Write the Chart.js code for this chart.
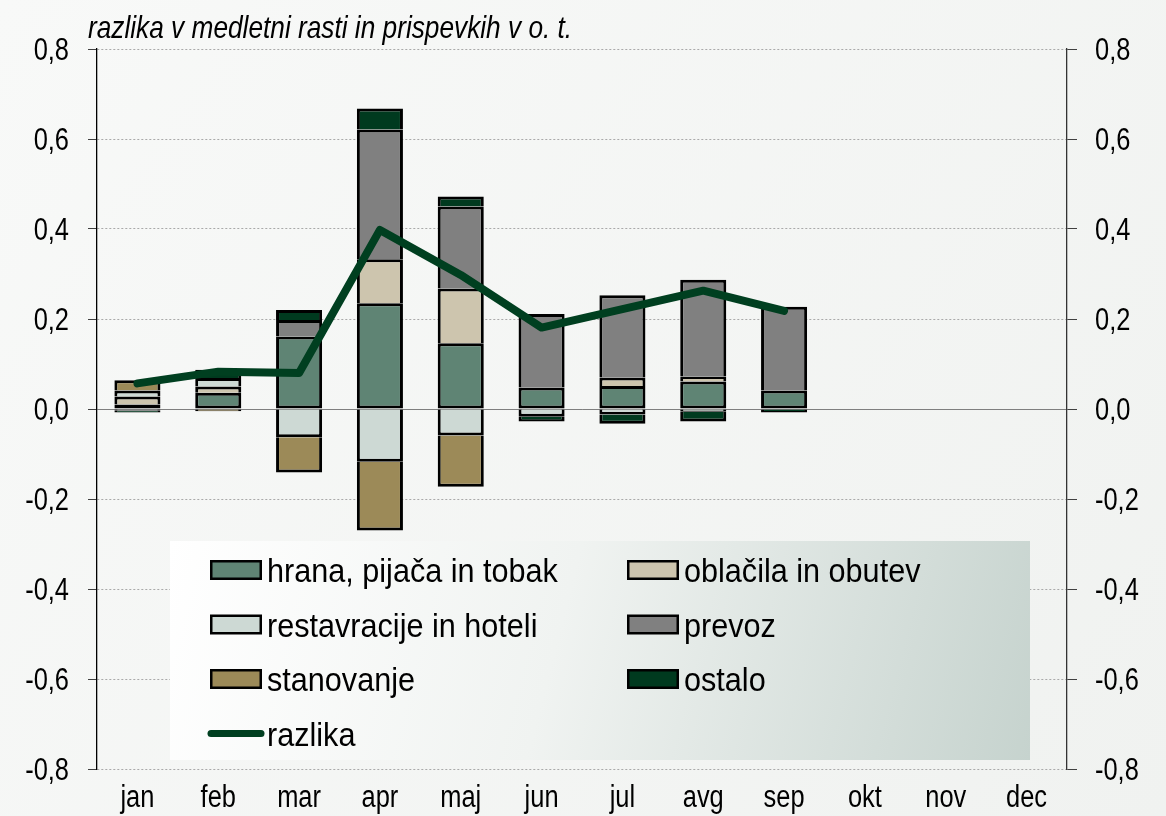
<!DOCTYPE html>
<html><head><meta charset="utf-8">
<script src="https://cdn.jsdelivr.net/npm/chart.js@4.4.0/dist/chart.umd.min.js"></script>
<style>html,body{margin:0;padding:0;background:#f6f7f6;}#wrap{width:1166px;height:816px;position:relative}</style>
</head><body><div id="wrap"><canvas id="c" width="1166" height="816"></canvas></div>
<script>
const categories = ['jan','feb','mar','apr','maj','jun','jul','avg','sep','okt','nov','dec'];
const hrana        = [0.010, 0.036, 0.161, 0.235, 0.146, 0.048, 0.051, 0.061, 0.041, null, null, null];
const oblacila     = [0.018, 0.014, 0,     0.098, 0.122, 0,     0.019, 0.011, 0,     null, null, null];
const restavracije = [0.013, 0.019, -0.063,-0.117,-0.059,-0.017,-0.012,-0.006, 0,     null, null, null];
const prevoz       = [-0.004,0,     0.037, 0.288, 0.182, 0.163, 0.183, 0.215, 0.186, null, null, null];
const stanovanje   = [0.023, -0.005,-0.078,-0.153,-0.114, 0,     0,     0,     0,     null, null, null];
const ostalo       = [-0.004,0.018, 0.022, 0.047, 0.022, -0.011,-0.021,-0.022,-0.008, null, null, null];
const razlika      = [0.057, 0.083, 0.080, 0.398, 0.298, 0.181, 0.222, 0.263, 0.218, null, null, null];
const seriesNames = ['hrana, pijača in tobak','oblačila in obutev','restavracije in hoteli','prevoz','stanovanje','ostalo','razlika'];
const yTickLabels = ['-0,8','-0,6','-0,4','-0,2','0,0','0,2','0,4','0,6','0,8'];
const titleText = 'razlika v medletni rasti in prispevkih v o. t.';

const FONT = "'Liberation Sans', Arial, sans-serif";
const barSeries = [hrana, oblacila, restavracije, prevoz, stanovanje, ostalo];
const barColors = ['#5f8474','#cdc5ae','#cdd9d4','#808080','#9c8a58','#003a1f'];
const lineColor = '#003f20';

function skipFn(ctx){
  const v = ctx.raw, i = ctx.dataIndex, di = ctx.datasetIndex;
  if (v > 0) {
    for (let k = 0; k < di; k++) { const d = barSeries[k][i]; if (d > 0) return 'start'; }
    return false;
  }
  return 'start';
}

const datasets = barSeries.map((arr, k) => ({
  type: 'bar', label: seriesNames[k], data: arr, backgroundColor: barColors[k],
  borderColor: '#000', borderWidth: 3, borderSkipped: skipFn, stack: 'a', order: 1,
  barPercentage: 0.57, categoryPercentage: 1.0, yAxisID: 'y'
}));
datasets.push({
  type: 'line', label: seriesNames[6], data: razlika, borderColor: lineColor, backgroundColor: lineColor,
  borderWidth: 8, pointRadius: 0, tension: 0, borderCapStyle: 'round', borderJoinStyle: 'round',
  order: 0, yAxisID: 'y2', spanGaps: false
});

// draw condensed text (Arial Narrow look) by horizontal scaling
function narrowText(c, text, x, y, align, sx){
  c.save(); c.translate(x, y); c.scale(sx, 1); c.textAlign = align; c.textBaseline = 'alphabetic';
  c.fillText(text, 0, 0); c.restore();
}

const bgPlugin = {
  id: 'bg',
  beforeDraw(chart){
    const c = chart.ctx; const w = chart.width, h = chart.height;
    const g = c.createLinearGradient(0, 0, w, h);
    g.addColorStop(0, '#f8f9f8'); g.addColorStop(1, '#f0f2f0');
    c.save(); c.fillStyle = g; c.fillRect(0, 0, w, h); c.restore();
  }
};
const textPlugin = {
  id: 'txt',
  afterDraw(chart){
    const c = chart.ctx; c.save(); c.fillStyle = '#000';
    c.font = 'italic 32px ' + FONT;
    narrowText(c, titleText, 88, 38, 'left', 0.82);
    c.font = '31px ' + FONT;
    const ys = chart.scales.y, y2 = chart.scales.y2, xs = chart.scales.x;
    ys.ticks.forEach((t, i) => narrowText(c, yTickLabels[i], 69, ys.getPixelForTick(i) + 11, 'right', 0.82));
    y2.ticks.forEach((t, i) => narrowText(c, yTickLabels[i], 1095, y2.getPixelForTick(i) + 11, 'left', 0.82));
    xs.ticks.forEach((t, i) => narrowText(c, categories[i], xs.getPixelForTick(i), 807, 'center', 0.82));
    c.restore();
  }
};
const legendPlugin = {
  id: 'lgd',
  afterDatasetsDraw(chart){
    const c = chart.ctx; c.save();
    const bx = 170, by = 541, bw = 860, bh = 219;
    const g = c.createLinearGradient(bx, by, bx + bw, by + bh);
    g.addColorStop(0, '#ffffff'); g.addColorStop(0.45, '#f0f3f1'); g.addColorStop(1, '#c6d3ce');
    c.fillStyle = g; c.fillRect(bx, by, bw, bh);
    c.font = '34px ' + FONT;
    chart.data.datasets.forEach((ds, i) => {
      const row = Math.floor(i / 2), col = i % 2;
      const y = 570 + row * 54.5;
      const sx = col === 0 ? 210 : 627;
      if (ds.type === 'line') {
        c.strokeStyle = ds.borderColor; c.lineWidth = 7; c.lineCap = 'round';
        c.beginPath(); c.moveTo(sx + 1, y); c.lineTo(sx + 51, y); c.stroke();
      } else {
        c.fillStyle = '#000'; c.fillRect(sx, y - 10, 52, 20);
        c.fillStyle = ds.backgroundColor; c.fillRect(sx + 2.5, y - 7.5, 47, 15);
      }
      c.fillStyle = '#000';
      narrowText(c, ds.label, sx + 57, y + 12, 'left', 0.9);
    });
    c.restore();
  }
};

const isZero = (ctx) => ctx.tick && Math.abs(ctx.tick.value) < 1e-9;

new Chart(document.getElementById('c'), {
  data: { labels: categories, datasets },
  plugins: [bgPlugin, textPlugin, legendPlugin],
  options: {
    responsive: false, animation: false, devicePixelRatio: 1,
    layout: { padding: { top: 49, left: 0, right: 0, bottom: 0 } },
    plugins: { legend: { display: false }, title: { display: false }, tooltip: { enabled: false } },
    scales: {
      x: {
        stacked: true, offset: true,
        grid: { display: false, drawTicks: false },
        border: { display: false },
        ticks: { font: { family: FONT, size: 30 }, color: 'rgba(0,0,0,0)', padding: 13, maxRotation: 0, autoSkip: false },
        afterFit(s){ s.height = 47; }
      },
      y: {
        position: 'left', stacked: true, min: -0.8, max: 0.8,
        ticks: { stepSize: 0.2, font: { family: FONT, size: 30 }, color: 'rgba(0,0,0,0)', padding: 18,
                 callback: (v, i) => yTickLabels[i] },
        grid: { color: (ctx) => isZero(ctx) ? '#7f7f7f' : '#a9a9a9', lineWidth: 1,
                drawTicks: true, tickLength: 9, tickColor: '#404040', tickBorderDash: [] },
        border: { display: true, color: '#000', width: 1.3, dash: (ctx) => isZero(ctx) ? [] : [2, 2] },
        afterFit(s){ s.width = 97; }
      },
      y2: {
        position: 'right', stacked: false, min: -0.8, max: 0.8,
        ticks: { stepSize: 0.2, font: { family: FONT, size: 30 }, color: 'rgba(0,0,0,0)', padding: 16,
                 callback: (v, i) => yTickLabels[i] },
        grid: { drawOnChartArea: false, drawTicks: true, tickLength: 10, tickColor: '#404040', tickBorderDash: [] },
        border: { display: true, color: '#333', width: 1.3 },
        afterFit(s){ s.width = 99; }
      }
    }
  }
});
</script></body></html>
